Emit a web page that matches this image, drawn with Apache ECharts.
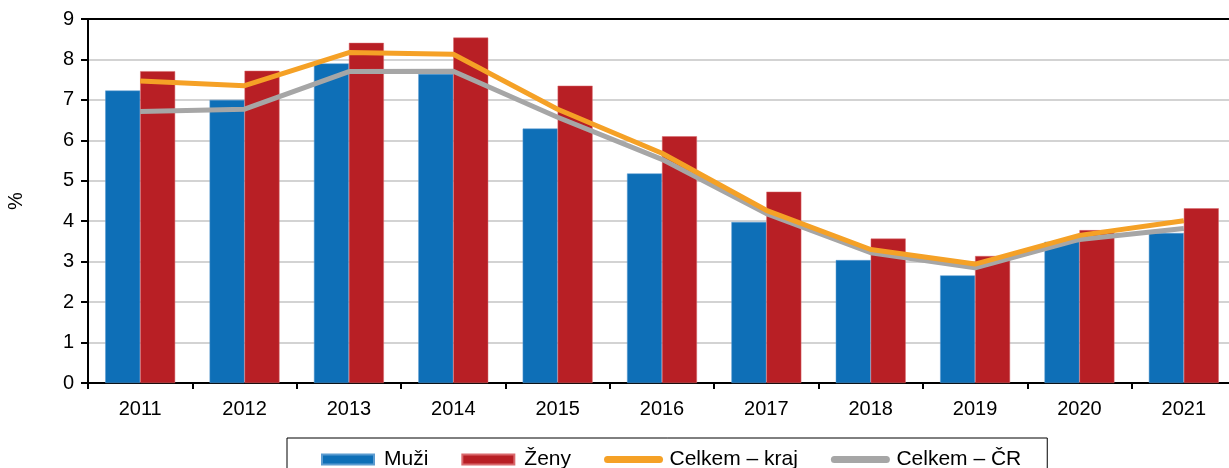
<!DOCTYPE html>
<html>
<head>
<meta charset="utf-8">
<script src="https://cdn.jsdelivr.net/npm/echarts@6/dist/echarts.min.js"></script>
<style>
  html, body { margin: 0; padding: 0; background: #fff; }
  #chart { width: 1229px; height: 468px; }
</style>
</head>
<body>
<div id="chart"></div>
<script>
// roky
const years = ["2011", "2012", "2013", "2014", "2015", "2016", "2017", "2018", "2019", "2020", "2021"];
const muzi = [7.23, 7.0, 7.9, 7.64, 6.29, 5.18, 3.98, 3.04, 2.66, 3.49, 3.71];
const zeny = [7.71, 7.72, 8.41, 8.54, 7.35, 6.1, 4.73, 3.57, 3.14, 3.78, 4.32];
const celkemKraj = [7.47, 7.35, 8.17, 8.13, 6.77, 5.68, 4.27, 3.3, 2.94, 3.65, 4.01];
const celkemCR = [6.71, 6.77, 7.7, 7.71, 6.57, 5.53, 4.19, 3.22, 2.85, 3.55, 3.82];
const yTicks = { min: 0, max: 9, interval: 1 };

const font = "Liberation Sans, Arial, sans-serif";
const chart = echarts.init(document.getElementById("chart"));

chart.setOption({
  animation: false,
  grid: { left: 88, top: 19, bottom: 85, right: -7, containLabel: false, outerBoundsMode: "none" },
  legend: {
    left: 287,
    top: 438,
    padding: [11, 26, 20, 34],
    borderColor: "#000",
    borderWidth: 1,
    itemWidth: 52,
    itemHeight: 10,
    itemGap: 33,
    textStyle: { fontFamily: font, fontSize: 21, color: "#000", padding: [0, 0, 0, 5] },
    data: [
      { name: "Muži", icon: "rect" },
      { name: "Ženy", icon: "rect" },
      { name: "Celkem – kraj", itemStyle: { opacity: 0 }, lineStyle: { width: 7, cap: "round" } },
      { name: "Celkem – ČR", itemStyle: { opacity: 0 }, lineStyle: { width: 7, cap: "round" } }
    ]
  },
  xAxis: [
    {
      type: "category",
      data: years,
      axisLine: { lineStyle: { color: "#000", width: 2 } },
      axisTick: { show: true, length: 6, lineStyle: { color: "#000", width: 2 } },
      axisLabel: { color: "#000", fontFamily: font, fontSize: 20, margin: 16 }
    },
    {
      type: "category",
      data: years,
      position: "top",
      axisLine: { lineStyle: { color: "#000", width: 2 } },
      axisTick: { show: false },
      axisLabel: { show: false }
    }
  ],
  yAxis: {
    type: "value",
    min: yTicks.min,
    max: yTicks.max,
    interval: yTicks.interval,
    name: "%",
    nameLocation: "middle",
    nameGap: 62,
    nameRotate: 90,
    nameTextStyle: { color: "#000", fontFamily: font, fontSize: 20 },
    axisLine: { show: true, lineStyle: { color: "#000", width: 2 } },
    axisTick: { show: true, length: 7, lineStyle: { color: "#000", width: 2 } },
    axisLabel: { color: "#000", fontFamily: font, fontSize: 20, margin: 14 },
    splitLine: { lineStyle: { color: "#c4c4c4", width: 1.5 } }
  },
  series: [
    {
      name: "Muži",
      type: "bar",
      data: muzi,
      barGap: "0%",
      barCategoryGap: "33%",
      itemStyle: { color: "#0e6fb7", borderColor: "#5b9bd0", borderWidth: 0.5 }
    },
    {
      name: "Ženy",
      type: "bar",
      data: zeny,
      itemStyle: { color: "#b81f25", borderColor: "#d9686c", borderWidth: 0.5 }
    },
    {
      name: "Celkem – kraj",
      type: "line",
      data: celkemKraj,
      symbol: "none",
      z: 4,
      lineStyle: { color: "#f5a126", width: 5 },
      itemStyle: { color: "#f5a126" }
    },
    {
      name: "Celkem – ČR",
      type: "line",
      data: celkemCR,
      symbol: "none",
      z: 3,
      lineStyle: { color: "#a6a6a6", width: 5 },
      itemStyle: { color: "#a6a6a6" }
    }
  ]
});
</script>
</body>
</html>
